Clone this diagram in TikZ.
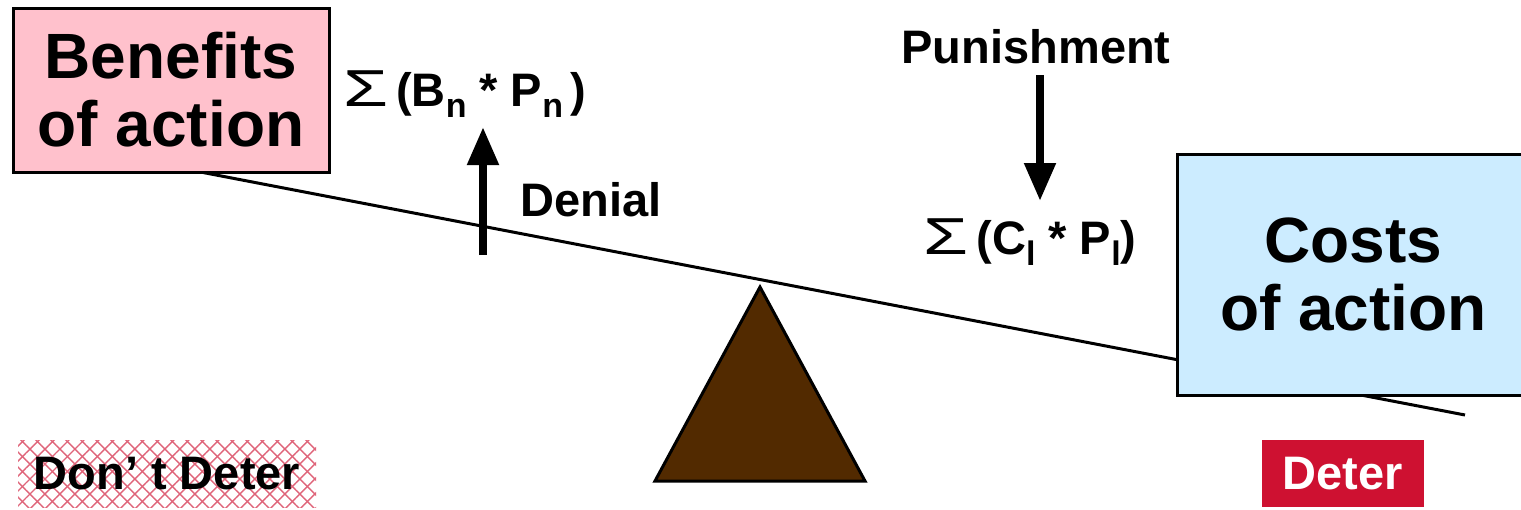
\documentclass[tikz,border=0pt]{standalone}
\usepackage{fontspec}
\setmainfont{Liberation Sans}
\usetikzlibrary{arrows.meta, patterns.meta, positioning}
\definecolor{BenefitPink}{HTML}{FFC1CC}
\definecolor{CostBlue}{HTML}{CCECFF}
\definecolor{FulcrumBrown}{HTML}{522A00}
\definecolor{DeterRed}{HTML}{CE1131}
\newcommand{\lowidx}[1]{\raisebox{-0.45ex}{\fontsize{17}{17}\selectfont #1}}
\newcommand{\sumsign}{\scalebox{1.4}[1]{\normalfont\fontsize{26}{28}\selectfont Σ}}

\begin{document}
\begin{tikzpicture}[
        x=0.5pt, y=-0.5pt,
        pan/.style={rectangle, draw=black, line width=1.5pt, align=center, inner sep=0pt, font=\fontsize{32}{34}\selectfont\bfseries},
        lbl/.style={inner sep=0pt, font=\fontsize{23.5}{28}\selectfont\bfseries},
        verdict/.style={rectangle, inner sep=0pt, minimum height=33.5pt, font=\fontsize{23.5}{26}\selectfont\bfseries},
        beam/.style={line width=1.5pt, black},
        bigarr/.style={-{Triangle[length=19pt,width=15pt]}, line width=4pt, black}
      ]
        \useasboundingbox (0,0) rectangle (1521,509);

        % the lever and its fulcrum
        \coordinate (beamL) at (190,170);
        \coordinate (beamR) at (1465,415);
        \draw[beam] (beamL) -- (beamR);
        \draw[line width=1.5pt, fill=FulcrumBrown, line join=miter] (760,287) -- (865,481) -- (655,481) -- cycle;

        % the two pans
        \node[pan, fill=BenefitPink, minimum width=158pt, minimum height=82pt] (benefits) at (171,90) {Benefits\\of action};
        \node[pan, fill=CostBlue, minimum width=176.5pt, minimum height=120.5pt] (costs) at (1353.5,274.5) {Costs\\of action};

        % sums
        \node[lbl] (sumB) at (465,94) {\sumsign\,(B\lowidx{n} * P\lowidx{n}\,)};
        \node[lbl] (sumC) at (1030,242) {\sumsign\,(C\lowidx{l} * P\lowidx{l})};

        % levers
        \node[lbl] (denial) at (591,200) {Denial};
        \node[lbl] (punish) at (1036,47) {Punishment};
        \coordinate (denialTail) at (483,255);
        \coordinate (denialTip) at (483,127);
        \coordinate (punishTail) at (1040,75);
        \coordinate (punishTip) at (1040,201);
        \draw[bigarr] (denialTail) -- (denialTip);
        \draw[bigarr] (punishTail) -- (punishTip);

        % outcomes
        \node[verdict, minimum width=149pt,
              preaction={pattern={Lines[angle=45,distance=5.3pt,line width=0.7pt]}, pattern color=DeterRed!65},
              pattern={Lines[angle=-45,distance=5.3pt,line width=0.7pt]}, pattern color=DeterRed!65] (nodeter) at (167,474) {Don’ t Deter};
        \node[verdict, fill=DeterRed, text=white, minimum width=81pt] (deter) at (1343,473.5) {Deter};
      \end{tikzpicture}
\end{document}
